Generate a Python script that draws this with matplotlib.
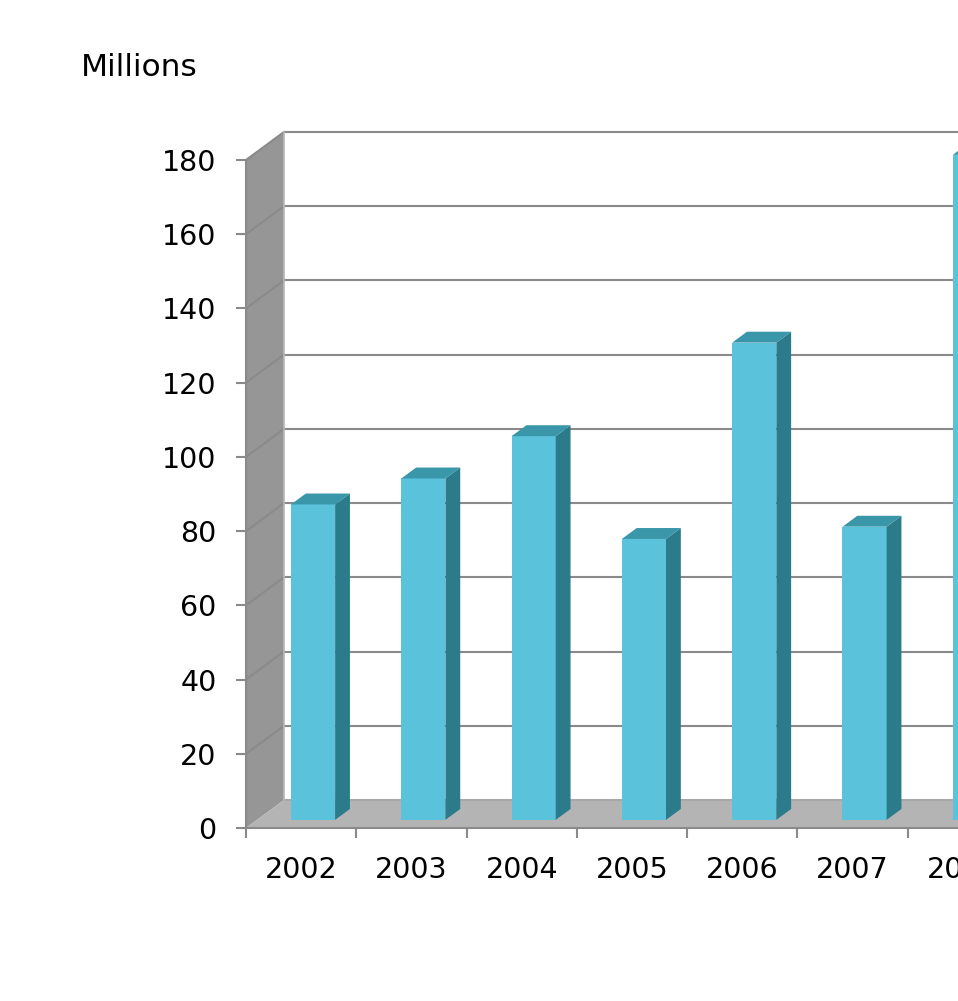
import numpy as np
import matplotlib
matplotlib.use("Agg")
import matplotlib.pyplot as plt
from matplotlib.patches import Polygon

years = ["2002", "2003", "2004", "2005", "2006", "2007", "2008"]
values = [85, 92, 103.4, 75.7, 128.6, 79, 179.2]
y_ticks = [0, 20, 40, 60, 80, 100, 120, 140, 160, 180]

# fake depth: one unit of z shifts right/up by these (data units)
DX = 38 / 110.3
DY = 28 / 3.711
Z0, Z1 = 0.29, 0.68          # bar depth span
HALF_W = 0.2                  # bar half width

FRONT = "#5bc2db"
SIDE = "#2b7b8b"
TOP = "#3a96a9"
WALL = "#969696"
FLOOR = "#b4b4b4"
GRID = "#8a8a8a"


def proj(x, y, z):
    return (x + z * DX, y + z * DY)


def poly(ax, pts, color, z=1):
    ax.add_patch(Polygon([proj(*p) for p in pts], closed=True, facecolor=color,
                         edgecolor="none", clip_on=False, zorder=z))


fig = plt.figure(figsize=(9.58, 10.01), dpi=100)
W, H = 958, 1001
px = 110.3
ax = fig.add_axes([246 / W, (H - 828) / H, len(years) * px / W, (828 - 160) / H])
xmin, xmax = -0.5, len(years) - 0.5
ax.set_xlim(xmin, xmax)
ax.set_ylim(0, 180)

# left wall and floor
poly(ax, [(xmin, 0, 0), (xmin, 180, 0), (xmin, 180, 1), (xmin, 0, 1)], WALL)
poly(ax, [(xmin, 0, 0), (xmax + 1, 0, 0), (xmax + 1, 0, 1), (xmin, 0, 1)], FLOOR)

# gridlines on back wall and side wall
for v in y_ticks:
    a = proj(xmin, v, 0)
    b = proj(xmin, v, 1)
    c = proj(xmax + 1, v, 1)
    if v > 0:
        ax.plot([a[0], b[0]], [a[1], b[1]], color=GRID, lw=1.5, clip_on=False, zorder=2)
    ax.plot([b[0], c[0]], [b[1], c[1]], color=GRID if v > 0 else "#a8a8a8",
            lw=1.5, clip_on=False, zorder=2)
bl = proj(xmin, 0, 1)
tl = proj(xmin, 180, 1)
ax.plot([bl[0], tl[0]], [bl[1], tl[1]], color="#b8b8b8", lw=1.2, clip_on=False, zorder=2)

# bars
for i, v in enumerate(values):
    x0, x1 = i - HALF_W + 0.008, i + HALF_W + 0.008
    poly(ax, [(x0, 0, Z0), (x1, 0, Z0), (x1, v, Z0), (x0, v, Z0)], FRONT, 4)
    poly(ax, [(x1, 0, Z0), (x1, 0, Z1), (x1, v, Z1), (x1, v, Z0)], SIDE, 4)
    poly(ax, [(x0, v, Z0), (x1, v, Z0), (x1, v, Z1), (x0, v, Z1)], TOP, 4)

for s in ["top", "right"]:
    ax.spines[s].set_visible(False)
for s in ["left", "bottom"]:
    ax.spines[s].set_color(GRID)
    ax.spines[s].set_linewidth(1.5)
    ax.spines[s].set_zorder(5)

ax.set_yticks(y_ticks)
ax.set_yticklabels([str(t) for t in y_ticks])
ax.set_xticks(np.arange(len(years) + 1) - 0.5)
ax.set_xticklabels([])
ax.set_xticks(np.arange(len(years)), minor=True)
ax.set_xticklabels(years, minor=True)
ax.tick_params(axis="y", direction="out", length=7.2, width=1.5, color=GRID,
               labelsize=20.5, pad=14)
ax.tick_params(axis="x", which="major", direction="out", length=7.2, width=1.5, color=GRID)
ax.tick_params(axis="x", which="minor", length=0, labelsize=20.5, pad=20)
ax.patch.set_visible(False)

fig.text(81 / W, (H - 68) / H, "Millions", fontsize=22.5, ha="left", va="center")

fig.savefig("out.png", dpi=100, facecolor="white")
